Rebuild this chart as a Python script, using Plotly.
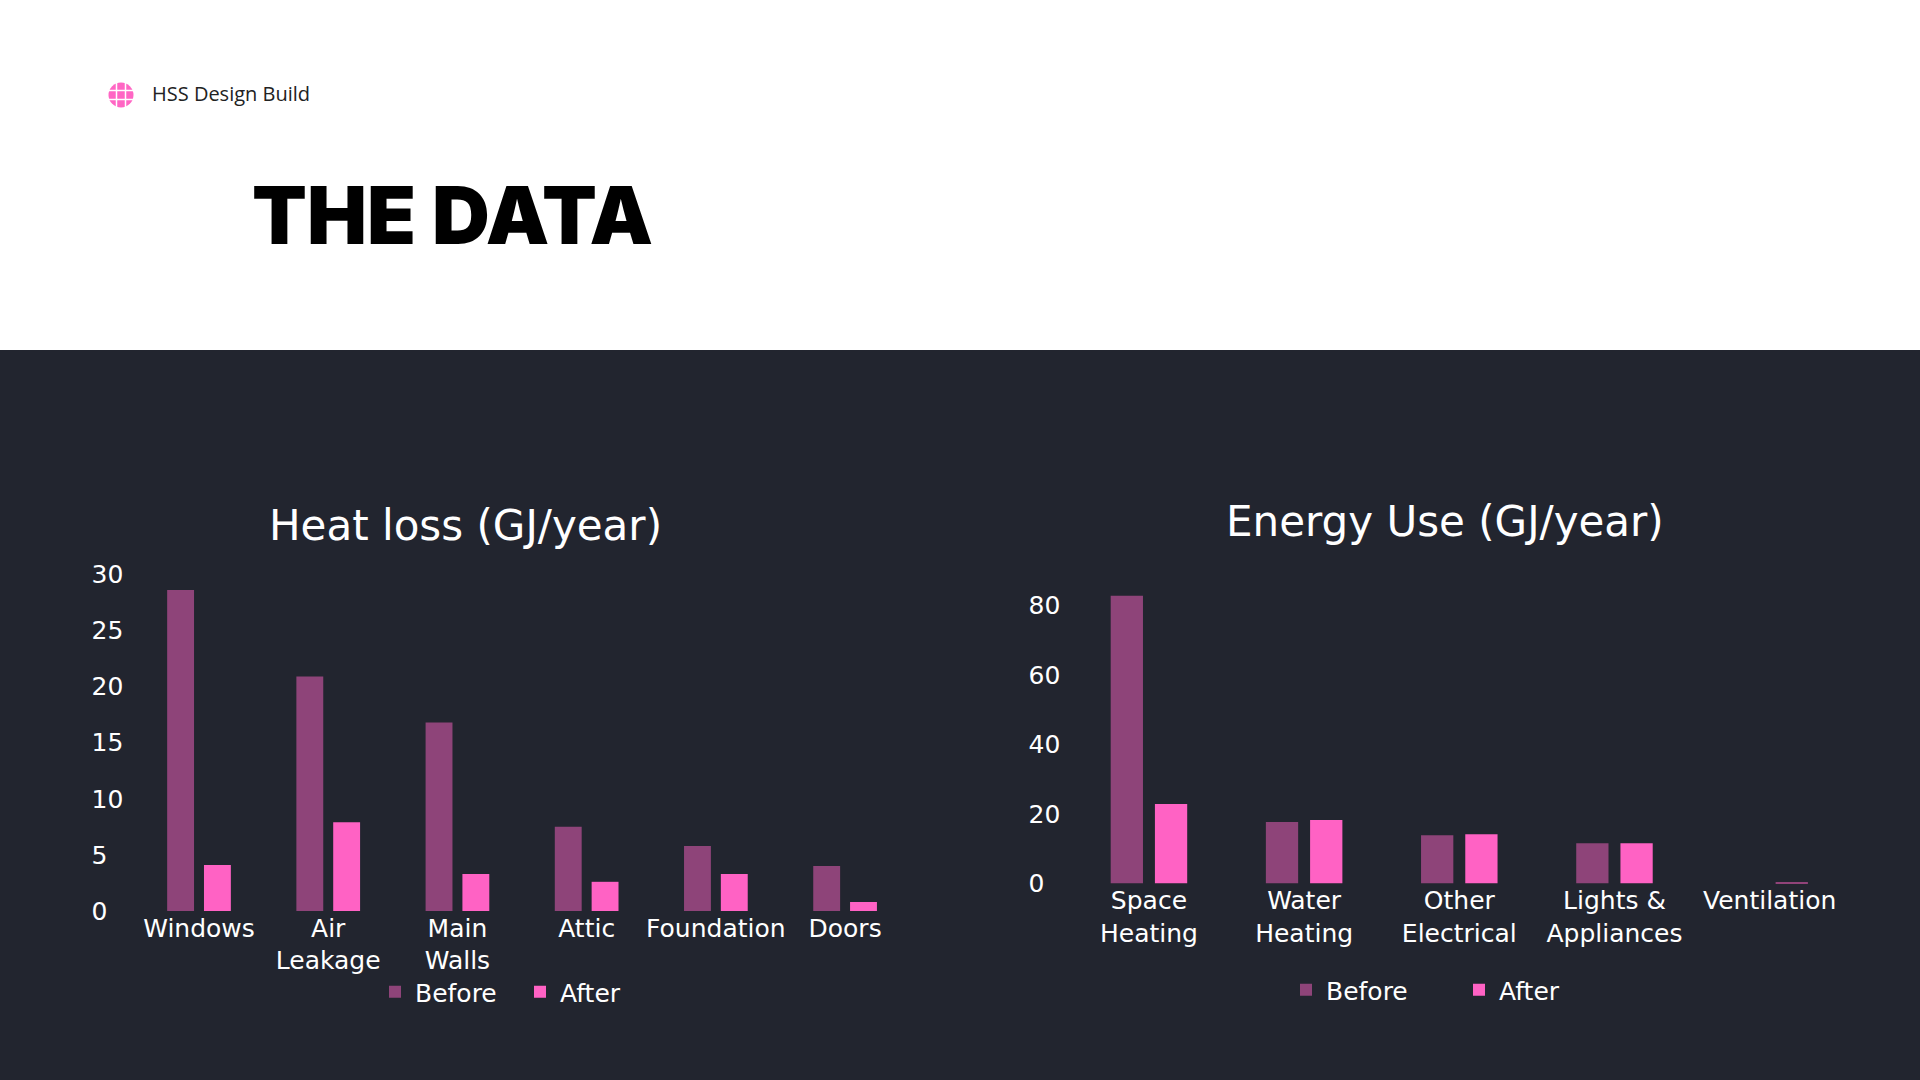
import plotly.graph_objects as go

# heat loss chart (GJ/year)
heat_categories = ['Windows', 'Air<br>Leakage', 'Main<br>Walls', 'Attic', 'Foundation', 'Doors']
heat_before = [28.6, 20.9, 16.8, 7.5, 5.8, 4.0]
heat_after = [4.1, 7.9, 3.3, 2.6, 3.3, 0.8]
heat_ticks = [0, 5, 10, 15, 20, 25, 30]

# energy use chart (GJ/year)
energy_categories = ['Space<br>Heating', 'Water<br>Heating', 'Other<br>Electrical',
                     'Lights &<br>Appliances', 'Ventilation']
energy_before = [82.9, 17.7, 13.9, 11.6, 0.0]
energy_after = [22.9, 18.3, 14.2, 11.6, 0.3]
energy_ticks = [0, 20, 40, 60, 80]

before_color = '#8e4479'
after_color = '#ff62c4'
dark_bg = '#22252f'
chart_font = 'DejaVu Sans'


def left_aligned(ticks):
    # pad with figure spaces so the tick labels line up on the left like the original
    width = max(len(str(t)) for t in ticks)
    return [str(t) + '\u2007' * (width - len(str(t))) for t in ticks]


fig = go.Figure()

fig.add_trace(go.Bar(x=heat_categories, y=heat_before, name='Before',
                     marker=dict(color=before_color, line_width=0),
                     xaxis='x', yaxis='y', legend='legend'))
fig.add_trace(go.Bar(x=heat_categories, y=heat_after, name='After',
                     marker=dict(color=after_color, line_width=0),
                     xaxis='x', yaxis='y', legend='legend'))
fig.add_trace(go.Bar(x=energy_categories, y=energy_before, name='Before',
                     marker=dict(color=before_color, line_width=0),
                     xaxis='x2', yaxis='y2', legend='legend2'))
fig.add_trace(go.Bar(x=energy_categories, y=energy_after, name='After',
                     marker=dict(color=after_color, line_width=0),
                     xaxis='x2', yaxis='y2', legend='legend2'))

axis_font = dict(family=chart_font, size=25, color='white')
xaxis_style = dict(showgrid=False, zeroline=False, showline=False, ticks='',
                   tickfont=axis_font, fixedrange=True, automargin=False)
yaxis_style = dict(showgrid=False, zeroline=False, showline=False, ticks='',
                   tickfont=axis_font, ticklabelstandoff=10, fixedrange=True,
                   automargin=False, tickmode='array')

legend_style = dict(orientation='h', xanchor='left', yanchor='middle',
                    font=dict(family=chart_font, size=25, color='white'),
                    bgcolor='rgba(0,0,0,0)', entrywidthmode='pixels')

fig.update_layout(
    width=1920, height=1080,
    margin=dict(l=0, r=0, t=0, b=0, autoexpand=False),
    paper_bgcolor='white',
    plot_bgcolor='rgba(0,0,0,0)',
    barmode='group',
    bargap=0.43,
    bargroupgap=0.27,
    xaxis=dict(domain=[0.0700, 0.4738], anchor='y', **xaxis_style),
    yaxis=dict(domain=[0.1565, 0.4713], range=[0, 30.3], anchor='x',
               tickvals=heat_ticks, ticktext=left_aligned(heat_ticks), **yaxis_style),
    xaxis2=dict(domain=[0.5580, 0.9621], anchor='y2', **xaxis_style),
    yaxis2=dict(domain=[0.1820, 0.4552], range=[0, 85], anchor='x2',
                tickvals=energy_ticks, ticktext=left_aligned(energy_ticks), **yaxis_style),
    legend=dict(x=375 / 1920, y=1 - 992 / 1080, entrywidth=100, **legend_style),
    legend2=dict(x=1286 / 1920, y=1 - 990 / 1080, entrywidth=128, **legend_style),
    showlegend=True,
)

# dark lower band
fig.add_shape(type='rect', xref='paper', yref='paper', x0=0, x1=1, y0=0, y1=1 - 350 / 1080,
              fillcolor=dark_bg, line_width=0, layer='below')

# globe logo
cx, cy, r = 121, 95, 12.5
fig.add_shape(type='circle', xref='paper', yref='paper',
              x0=(cx - r) / 1920, x1=(cx + r) / 1920,
              y0=1 - (cy + r) / 1080, y1=1 - (cy - r) / 1080,
              fillcolor='#ff66c4', line_width=0)
for dx in (-4.5, 4.5):
    fig.add_shape(type='line', xref='paper', yref='paper',
                  x0=(cx + dx) / 1920, x1=(cx + dx) / 1920,
                  y0=1 - (cy + r) / 1080, y1=1 - (cy - r) / 1080,
                  line=dict(color='white', width=1.5))
for dy in (-4.5, 4.5):
    fig.add_shape(type='line', xref='paper', yref='paper',
                  x0=(cx - r) / 1920, x1=(cx + r) / 1920,
                  y0=1 - (cy + dy) / 1080, y1=1 - (cy + dy) / 1080,
                  line=dict(color='white', width=1.5))

fig.add_annotation(text='HSS Design Build', xref='paper', yref='paper',
                   x=150 / 1920, y=1 - 94 / 1080, xanchor='left', yanchor='middle',
                   showarrow=False, font=dict(family='Open Sans', size=20, color='#222222'))
fig.add_annotation(text='THE DATA', xref='paper', yref='paper',
                   x=250 / 1920, y=1 - 214 / 1080, xanchor='left', yanchor='middle',
                   showarrow=False, font=dict(family='Inter', size=80, color='black', weight=900))

fig.add_annotation(text='Heat loss (GJ/year)', xref='paper', yref='paper',
                   x=465 / 1920, y=1 - 525 / 1080, xanchor='center', yanchor='middle',
                   showarrow=False, font=dict(family=chart_font, size=42, color='white'))
fig.add_annotation(text='Energy Use (GJ/year)', xref='paper', yref='paper',
                   x=1445 / 1920, y=1 - 521 / 1080, xanchor='center', yanchor='middle',
                   showarrow=False, font=dict(family=chart_font, size=42, color='white'))

fig.write_html('out.html', config={'displayModeBar': False},
               post_script="document.body.style.margin='0';document.body.style.overflow='hidden';")
